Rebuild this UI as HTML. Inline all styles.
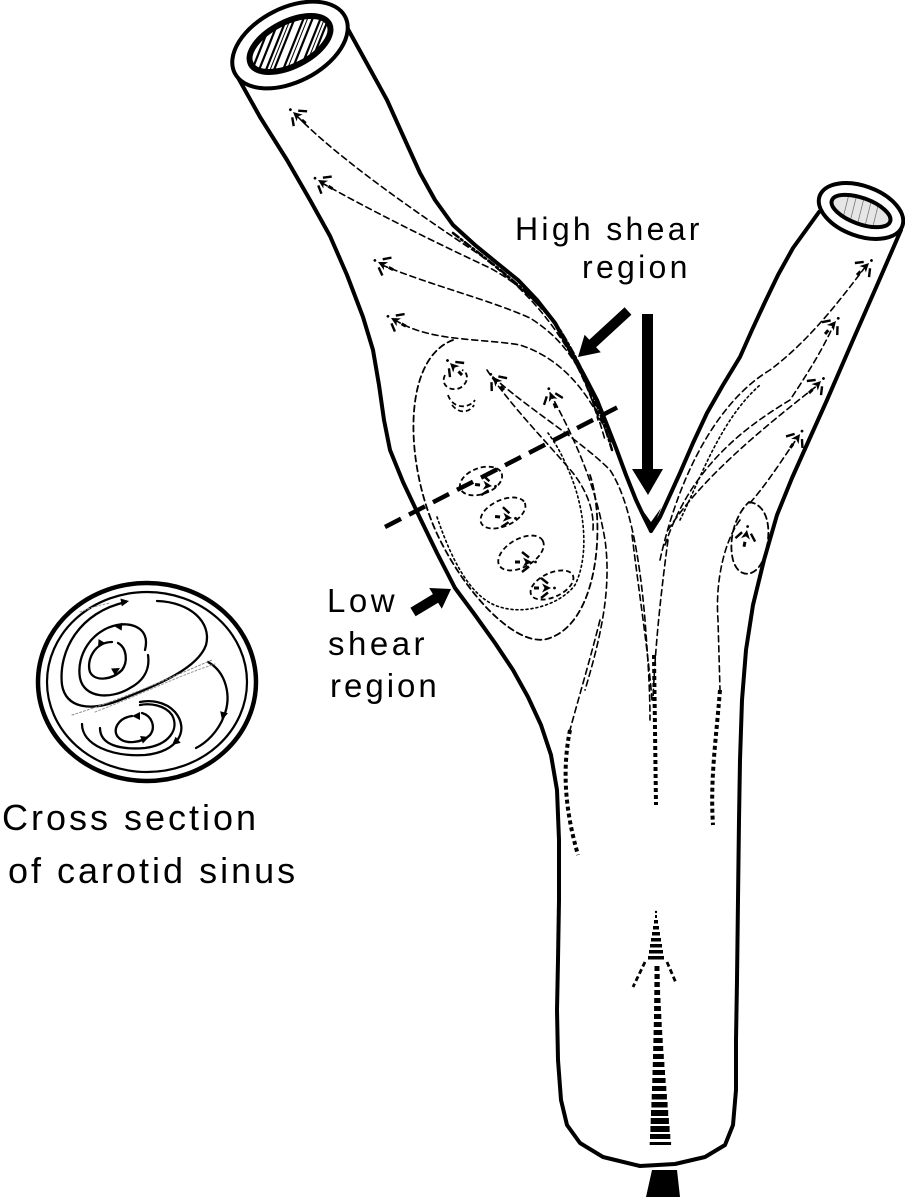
<!DOCTYPE html>
<html><head><meta charset="utf-8"><style>
html,body{margin:0;padding:0;background:#fff;}
svg{display:block;}
text{font-family:"Liberation Sans",Arial,sans-serif;fill:#000;}
</style></head><body>
<svg width="905" height="1200" viewBox="0 0 905 1200" xmlns="http://www.w3.org/2000/svg">
<defs>
<g id="ah">
<path d="M0,0 L-9,-4.5 L-6.5,0 L-9,4.5Z" fill="#000"/>
<path d="M-3,-4.5 L-10,-10 M-3,4.5 L-10,10" stroke="#000" stroke-width="2.4" fill="none"/>
<path d="M-12,0 L-17,0" stroke="#000" stroke-width="3"/>
<circle cx="3.5" cy="0" r="1.4" fill="#000"/>
</g>
<g id="tri"><path d="M0,0 L-8,-4 L-8,4Z" fill="#000"/></g>
<clipPath id="lc"><ellipse cx="290" cy="44" rx="43" ry="21" transform="rotate(-27 290 44)"/></clipPath>
<clipPath id="rc"><ellipse cx="861" cy="211" rx="30" ry="12" transform="rotate(20 861 211)"/></clipPath>
</defs>
<rect width="905" height="1200" fill="#fff"/>

<!-- main vessel outline -->
<g fill="none" stroke="#000" stroke-linejoin="round" stroke-linecap="round">
<polyline stroke-width="4" points="236,74 260,117 287,160 310,200 330,236 347,275 363,317 373,350 379,385 384,420 390,450 403,482 420,518 437,553 455,588 475,615 495,643 513,670 528,697 541,725 551,755 557,790 559,840 559,900 558,960 557,1010 558,1060 561,1100 567,1125 580,1143 603,1157 640,1166 675,1164 705,1157 725,1145 733,1125 736,1090 736,1040 737,980 738,900 739,820 740,760 742,700 746,650 753,605 764,560 777,515 792,478 809,440 827,400 853,340 878,283 901,230"/>
<polyline stroke-width="4" points="344,22 365,60 387,100 405,140 420,173 435,200 453,225 475,245 497,263 518,280 537,300 555,323 570,350 584,375 597,400 607,425 616,448 626,475 636,500 644,517 651,531"/>
<polyline stroke-width="4" points="651,531 660,517 670,495 680,473 693,443 707,413 723,385 740,357 752,330 765,302 778,275 793,248 806,230 819,212"/>
</g>
<path d="M641,508 L651,533 L661,508 L651,522Z" fill="#000"/>

<!-- left cap -->
<ellipse cx="290" cy="45" rx="62" ry="37" transform="rotate(-27 290 45)" fill="#fff" stroke="#000" stroke-width="4"/>
<g clip-path="url(#lc)">
<rect x="240" y="10" width="100" height="70" fill="#fff"/>
<g stroke="#000" stroke-width="2.2">
<line x1="255" y1="80" x2="285" y2="5"/><line x1="262" y1="80" x2="292" y2="5"/>
<line x1="270" y1="80" x2="300" y2="5"/><line x1="279" y1="80" x2="309" y2="5"/>
<line x1="288" y1="80" x2="318" y2="5"/><line x1="296" y1="80" x2="326" y2="5"/>
<line x1="304" y1="80" x2="334" y2="5"/><line x1="248" y1="80" x2="278" y2="5"/>
</g>
<g stroke="#000" stroke-width="1"><line x1="266" y1="80" x2="296" y2="5"/><line x1="283" y1="80" x2="313" y2="5"/><line x1="300" y1="80" x2="330" y2="5"/></g>
</g>
<ellipse cx="290" cy="44" rx="44" ry="22" transform="rotate(-27 290 44)" fill="none" stroke="#000" stroke-width="6"/>

<!-- right cap -->
<ellipse cx="861" cy="211" rx="44" ry="25" transform="rotate(20 861 211)" fill="#fff" stroke="#000" stroke-width="4"/>
<g clip-path="url(#rc)">
<rect x="825" y="190" width="75" height="45" fill="#e6e6e6"/>
<g stroke="#777" stroke-width="0.8"><line x1="840" y1="230" x2="850" y2="190"/><line x1="848" y1="230" x2="858" y2="190"/><line x1="856" y1="230" x2="866" y2="190"/><line x1="864" y1="230" x2="874" y2="190"/><line x1="872" y1="230" x2="882" y2="190"/></g>
</g>
<ellipse cx="861" cy="211" rx="31" ry="13" transform="rotate(20 861 211)" fill="none" stroke="#000" stroke-width="4"/>

<!-- thin streamlines -->
<g fill="none" stroke="#000" stroke-width="1.6" stroke-dasharray="6 4" stroke-linecap="round">
<path d="M297,116 C340,160 420,215 480,255 C540,300 580,350 605,440"/>
<path d="M322,183 C370,210 430,240 490,268 C540,295 575,340 600,420"/>
<path d="M382,265 C430,285 490,300 530,318 C565,340 585,370 598,420"/>
<path d="M395,320 C430,342 480,338 520,345 C560,358 590,390 612,445"/>
<path d="M453,340 C400,360 405,470 440,540 C470,600 520,650 550,638 C600,620 605,520 590,475" stroke-width="1.8"/>
<path d="M437,517 C455,570 475,600 500,607 C525,615 560,605 575,585 C590,555 585,505 567,467 C560,450 553,440 548,433" stroke-dasharray="2 3"/>
<path d="M493,377 C530,410 580,440 610,470 C630,500 640,560 645,620 C648,660 650,690 650,720"/>
<path d="M550,393 C570,430 595,480 605,540 C612,590 600,640 585,690"/>
<path d="M487,370 C510,405 545,440 573,473 C590,495 594,515 593,530"/>
<path d="M632,535 C640,600 648,650 652,700"/>
<path d="M668,540 C660,600 655,650 653,700"/>
<path d="M660,560 C680,470 720,400 770,370 C810,340 840,300 866,266"/>
<path d="M665,545 C690,470 740,430 790,400 C810,370 825,345 834,324"/>
<path d="M668,530 C700,480 760,430 818,385"/>
<path d="M680,520 C700,480 720,420 760,385" stroke-dasharray="2 3"/>
<path d="M750,503 C770,480 785,455 798,437"/>
<path d="M749,502 C772,505 772,540 762,562 C754,578 738,578 733,560 C728,540 735,515 749,502" stroke-width="1.8"/>
<path d="M740,520 C725,540 715,580 718,620 L720,690"/>
<path d="M600,620 C590,660 578,700 570,730"/>
<path d="M453,233 C490,262 530,290 560,330 C585,370 600,410 612,450" stroke-width="2.5" stroke-dasharray="7 3 2 3"/>
</g>

<!-- small recirculation swirls -->
<g fill="none" stroke="#000" stroke-width="1.8" stroke-dasharray="5 3">
<ellipse cx="481" cy="481" rx="22" ry="13" transform="rotate(-20 481 481)"/>
<ellipse cx="503" cy="513" rx="24" ry="13" transform="rotate(-25 503 513)"/>
<ellipse cx="521" cy="553" rx="25" ry="14" transform="rotate(-30 521 553)"/>
<ellipse cx="552" cy="585" rx="23" ry="12" transform="rotate(-25 552 585)"/>
<path d="M445,375 C440,385 450,392 460,388 C470,382 468,372 462,370 M448,395 C452,408 468,410 475,400 M452,405 C460,415 470,412 474,405"/>
</g>

<!-- arrowheads on streamlines -->
<use href="#ah" transform="translate(293,112) rotate(222)"/>
<use href="#ah" transform="translate(318,180) rotate(211)"/>
<use href="#ah" transform="translate(378,262) rotate(207)"/>
<use href="#ah" transform="translate(391,318) rotate(209)"/>
<use href="#ah" transform="translate(450,363) rotate(225)"/>
<use href="#ah" transform="translate(493,377) rotate(230)"/>
<use href="#ah" transform="translate(550,392) rotate(250)"/>
<use href="#ah" transform="translate(492,486) rotate(5)"/>
<use href="#ah" transform="translate(512,518) rotate(5)"/>
<use href="#ah" transform="translate(532,562) rotate(0)"/>
<use href="#ah" transform="translate(551,588) rotate(0)"/>
<use href="#ah" transform="translate(869,263) rotate(-45)"/>
<use href="#ah" transform="translate(836,321) rotate(-50)"/>
<use href="#ah" transform="translate(821,381) rotate(-45)"/>
<use href="#ah" transform="translate(800,434) rotate(-55)"/>
<use href="#ah" transform="translate(747,530) rotate(-80)"/>

<!-- thick dotted lines in trunk -->
<g fill="none" stroke="#000" stroke-width="4" stroke-dasharray="4 3">
<path d="M654,655 L656,805"/>
<path d="M570,730 C562,770 565,810 578,855"/>
<path d="M720,690 C716,740 710,780 713,825"/>
</g>

<!-- thick dashed section line -->
<line x1="385" y1="527" x2="622" y2="405" stroke="#000" stroke-width="4.5" stroke-dasharray="18 9"/>

<!-- high shear arrows -->
<polygon points="624.6,307.3 589.3,339.8 584.6,334.7 578,357 600.8,352.3 596.1,347.2 631.4,314.7" fill="#000"/>
<rect x="642" y="314" width="11" height="158" fill="#000"/>
<polygon points="632,469 663,469 648,495" fill="#000"/>

<!-- low shear arrow -->
<polygon points="410.4,607.7 432.9,594.1 429.2,588 451,589 441.8,608.8 438.1,602.7 415.6,616.3" fill="#000"/>

<!-- inflow arrow -->
<g fill="#000">
<circle cx="656" cy="912" r="1.2"/>
<rect x="655" y="915" width="2" height="3"/>
<rect x="654" y="920" width="4" height="3.5"/>
<rect x="653" y="926" width="6" height="3.5"/>
<rect x="652" y="932" width="8" height="3.5"/>
<rect x="651" y="938" width="10" height="3.5"/>
<rect x="650" y="944" width="12" height="3.5"/>
<rect x="649" y="950" width="14" height="3.5"/>
<rect x="648" y="956" width="16" height="3.5"/>
</g>
<g stroke="#000" stroke-width="2.8" fill="none" stroke-dasharray="5 3">
<path d="M645,962 L633,987"/><path d="M667,962 L676,983"/>
</g>
<g fill="#000">
<rect x="654.5" y="966" width="5" height="5"/>
<rect x="654.5" y="974" width="5.2" height="5"/>
<rect x="654.4" y="982" width="5.4" height="5"/>
<rect x="654.3" y="990" width="5.8" height="5"/>
<rect x="654.2" y="998" width="6.3" height="5"/>
<rect x="654.1" y="1006" width="6.8" height="5"/>
<rect x="654" y="1014" width="7.3" height="5"/>
<rect x="653.8" y="1022" width="7.9" height="5"/>
<rect x="653.6" y="1030" width="8.6" height="5"/>
<rect x="653.4" y="1038" width="9.3" height="5"/>
<rect x="653.2" y="1046" width="10" height="5"/>
<rect x="653" y="1054" width="10.8" height="5"/>
<rect x="652.8" y="1062" width="11.6" height="5"/>
<rect x="652.5" y="1070" width="12.5" height="5"/>
<rect x="652.3" y="1078" width="13.3" height="5"/>
<rect x="652" y="1086" width="14.3" height="5"/>
<rect x="651.7" y="1094" width="15.2" height="5.5"/>
<rect x="651.4" y="1102" width="16.2" height="5.5"/>
<rect x="651" y="1110" width="17.2" height="6"/>
<rect x="650.7" y="1118" width="18.2" height="6"/>
<rect x="650.4" y="1126" width="19.2" height="6"/>
<rect x="650" y="1134" width="20.3" height="5"/>
<rect x="649.7" y="1142" width="21.4" height="3"/>
<polygon points="652,1170 677,1170 680,1197 646,1197"/>
</g>

<!-- labels -->
<text x="515" y="240" font-size="32" letter-spacing="3.3">High shear</text>
<text x="582" y="278" font-size="32" letter-spacing="3.3">region</text>
<text x="327" y="612" font-size="33" letter-spacing="3.5">Low</text>
<text x="328" y="655" font-size="33" letter-spacing="3.5">shear</text>
<text x="330" y="697" font-size="33" letter-spacing="3">region</text>
<text x="2" y="830" font-size="36" letter-spacing="3">Cross section</text>
<text x="8" y="883" font-size="36" letter-spacing="3">of carotid sinus</text>

<!-- cross section -->
<g fill="none" stroke="#000" stroke-linecap="round">
<ellipse cx="147" cy="682" rx="109" ry="99" stroke-width="4.5"/>
<ellipse cx="147" cy="682" rx="100" ry="90" stroke-width="2.2"/>
<g stroke-width="2.3">
<path d="M157,601 C190,602 212,622 206,645 C198,668 160,684 120,700 C90,712 66,708 62,685 C58,650 80,612 126,602"/>
<path d="M145,650 C150,630 135,622 117,625 C92,630 76,655 80,678 C84,698 110,700 130,688 C145,680 150,668 148,655"/>
<path d="M112,642 C95,642 86,660 90,672 C95,682 112,680 122,670 C128,662 127,648 118,643"/>
<path d="M208,662 C226,672 232,696 224,716 C218,732 206,743 196,748"/>
<path d="M82,724 C82,745 112,757 145,755 C178,752 190,730 175,712 C165,701 150,700 140,702"/>
<path d="M100,728 C100,745 120,750 145,748 C168,745 180,730 172,715 C165,705 150,703 140,705"/>
<path d="M132,716 C118,718 112,730 118,737 C125,745 142,743 150,735 C156,727 152,716 142,713"/>
</g>
<path d="M72,715 C120,700 165,680 212,660" stroke="#888" stroke-width="1" stroke-dasharray="2 2"/>
<path d="M95,712 C140,695 180,675 215,664" stroke="#999" stroke-width="1" stroke-dasharray="2 2"/>
<path d="M80,612 C95,606 105,604 110,603" stroke="#999" stroke-width="1" stroke-dasharray="2 2"/>
</g>
<use href="#tri" transform="translate(129,601) rotate(-10)"/>
<use href="#tri" transform="translate(114,626) rotate(185)"/>
<use href="#tri" transform="translate(98,648) rotate(120)"/>
<use href="#tri" transform="translate(120,668) rotate(-30)"/>
<use href="#tri" transform="translate(222,720) rotate(105)"/>
<use href="#tri" transform="translate(172,745) rotate(140)"/>
<use href="#tri" transform="translate(132,716) rotate(180)"/>
<use href="#tri" transform="translate(149,737) rotate(-20)"/>
</svg>
</body></html>
